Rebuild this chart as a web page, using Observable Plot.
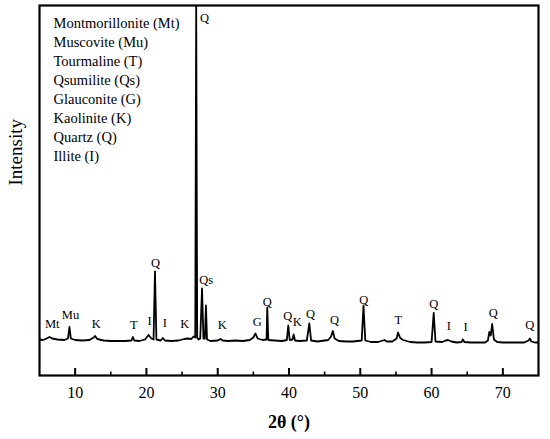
<!DOCTYPE html>
<html>
<head>
<meta charset="utf-8">
<script src="https://cdn.jsdelivr.net/npm/d3@7"></script>
<script src="https://cdn.jsdelivr.net/npm/@observablehq/plot@0.6"></script>
<style>
  html, body { margin: 0; padding: 0; background: white; }
</style>
</head>
<body>
<div id="chart"></div>
<script>
// 2θ (degrees) of the read pattern points
const theta = [
  5.0, 5.5, 6.0, 6.4, 6.8, 7.5, 8.5, 9.0, 9.2, 9.4, 10.0, 11.0, 12.0, 12.6, 12.8, 13.1,
  14.0, 15.0, 16.0, 17.0, 17.9, 18.1, 18.3, 19.0, 19.8, 20.3, 20.7, 21.0, 21.2, 21.4,
  22.0, 22.3, 22.6, 23.5, 24.5, 25.3, 25.8, 26.3, 26.6, 26.85, 26.98, 27.12, 27.3, 27.55,
  27.8, 28.0, 28.2, 28.35, 28.5, 29.0, 30.0, 30.4, 30.7, 31.5, 32.5, 33.5, 34.5, 35.0,
  35.3, 35.6, 36.3, 36.85, 36.95, 37.1, 38.0, 39.0, 39.7, 39.9, 40.1, 40.5, 40.65, 40.85,
  41.5, 42.5, 42.85, 43.1, 44.0, 45.5, 45.9, 46.15, 46.4, 47.0, 48.0, 49.0, 50.2, 50.45,
  50.7, 51.5, 52.5, 53.4, 53.7, 54.5, 55.1, 55.3, 55.6, 56.0, 57.0, 58.0, 59.0, 60.0,
  60.3, 60.55, 61.5, 62.0, 62.3, 62.8, 63.5, 64.2, 64.4, 64.6, 65.5, 66.5, 67.5, 67.9,
  68.1, 68.3, 68.5, 68.75, 69.2, 70.0, 71.0, 72.0, 73.0, 73.6, 73.8, 74.0, 74.5, 75.0
];
// intensity (arbitrary units) at each point
const intensity = [
  360, 355, 370, 385, 370, 360, 355, 370, 485, 370, 355, 350, 355, 380, 395, 365,
  350, 345, 345, 345, 350, 385, 350, 345, 360, 405, 370, 360, 1040, 360,
  350, 375, 350, 345, 350, 365, 370, 365, 390, 380, 3700, 380, 360, 370,
  870, 370, 370, 700, 360, 345, 350, 365, 350, 345, 350, 345, 355, 380,
  420, 370, 355, 360, 680, 355, 350, 345, 355, 500, 355, 360, 410, 350,
  345, 350, 520, 350, 340, 355, 390, 445, 370, 345, 340, 340, 350, 700,
  350, 335, 335, 355, 340, 340, 370, 430, 375, 355, 335, 330, 330, 335,
  625, 340, 335, 350, 355, 340, 330, 335, 360, 335, 330, 330, 330, 350,
  435, 400, 515, 360, 335, 330, 330, 330, 330, 350, 370, 340, 330, 330
];

// Peak labels
const peakLabels = ["Mt","Mu","K","T","I","Q","I","K","Q","Qs","K","G","Q","Q","K","Q","Q","Q","T","Q","I","I","Q","Q"];
const peakTheta  = [6.78, 9.35, 12.95, 18.23, 20.43, 21.27, 22.58, 25.38, 28.14, 28.38, 30.63, 35.54, 36.94, 39.83, 41.15, 43.01, 46.38, 50.49, 55.32, 60.31, 62.41, 64.76, 68.64, 73.78];
const peakLabelY = [517, 610, 517, 510, 543, 1123, 523, 517, 3580, 957, 510, 533, 740, 600, 533, 617, 557, 757, 557, 717, 500, 490, 623, 510];

// Legend entries
const legendLines = [
  "Montmorillonite (Mt)", "Muscovite (Mu)", "Tourmaline (T)", "Qsumilite (Qs)",
  "Glauconite (G)", "Kaolinite (K)", "Quartz (Q)", "Illite (I)"
];

// Axis ticks
const xMajorTicks = [10, 20, 30, 40, 50, 60, 70];
const xMinorTicks = [15, 25, 35, 45, 55, 65];
const xDomain = [5, 75];
const yDomain = [0, 3700];

const pattern = theta.map((t, i) => ({t, v: intensity[i]}));
const labels = peakLabels.map((s, i) => ({s, t: peakTheta[i], v: peakLabelY[i]}));

const font = "'Liberation Serif', 'Times New Roman', serif";

const chart = Plot.plot({
  width: 550,
  height: 439,
  marginLeft: 39,
  marginRight: 12,
  marginTop: 5,
  marginBottom: 64,
  style: {fontFamily: font, background: "white", color: "black"},
  x: {domain: xDomain},
  y: {domain: yDomain, axis: null},
  marks: [
    Plot.line(pattern, {x: "t", y: "v", stroke: "black", strokeWidth: 1.8, strokeLinejoin: "round", clip: true}),
    Plot.text(labels, {x: "t", y: "v", text: "s", fontSize: 12.5, fontFamily: font, fill: "black"}),
    Plot.text([legendLines.join("\n")], {
      frameAnchor: "top-left", textAnchor: "start", lineAnchor: "top",
      dx: 14, dy: 9, lineHeight: 1.31, fontSize: 14.5, fontFamily: font, fill: "black"
    }),
    Plot.tickX(xMajorTicks, {x: d => d, insetTop: 363, stroke: "black", strokeWidth: 2}),
    Plot.tickX(xMinorTicks, {x: d => d, insetTop: 366.5, stroke: "black", strokeWidth: 1.6}),
    Plot.axisX(xMajorTicks, {tickSize: 0, tickPadding: 11, fontSize: 16, fontFamily: font, label: null}),
    Plot.frame({stroke: "black", strokeWidth: 2.2}),
    Plot.text(["2θ (°)"], {frameAnchor: "bottom", lineAnchor: "top", dy: 40, fontSize: 18, fontWeight: "bold", fontFamily: font, fill: "black"}),
    Plot.text(["Intensity"], {frameAnchor: "left", rotate: -90, dx: -24, dy: -5, fontSize: 19, fontFamily: font, fill: "black"})
  ]
});

document.getElementById("chart").appendChild(chart);
</script>
</body>
</html>
